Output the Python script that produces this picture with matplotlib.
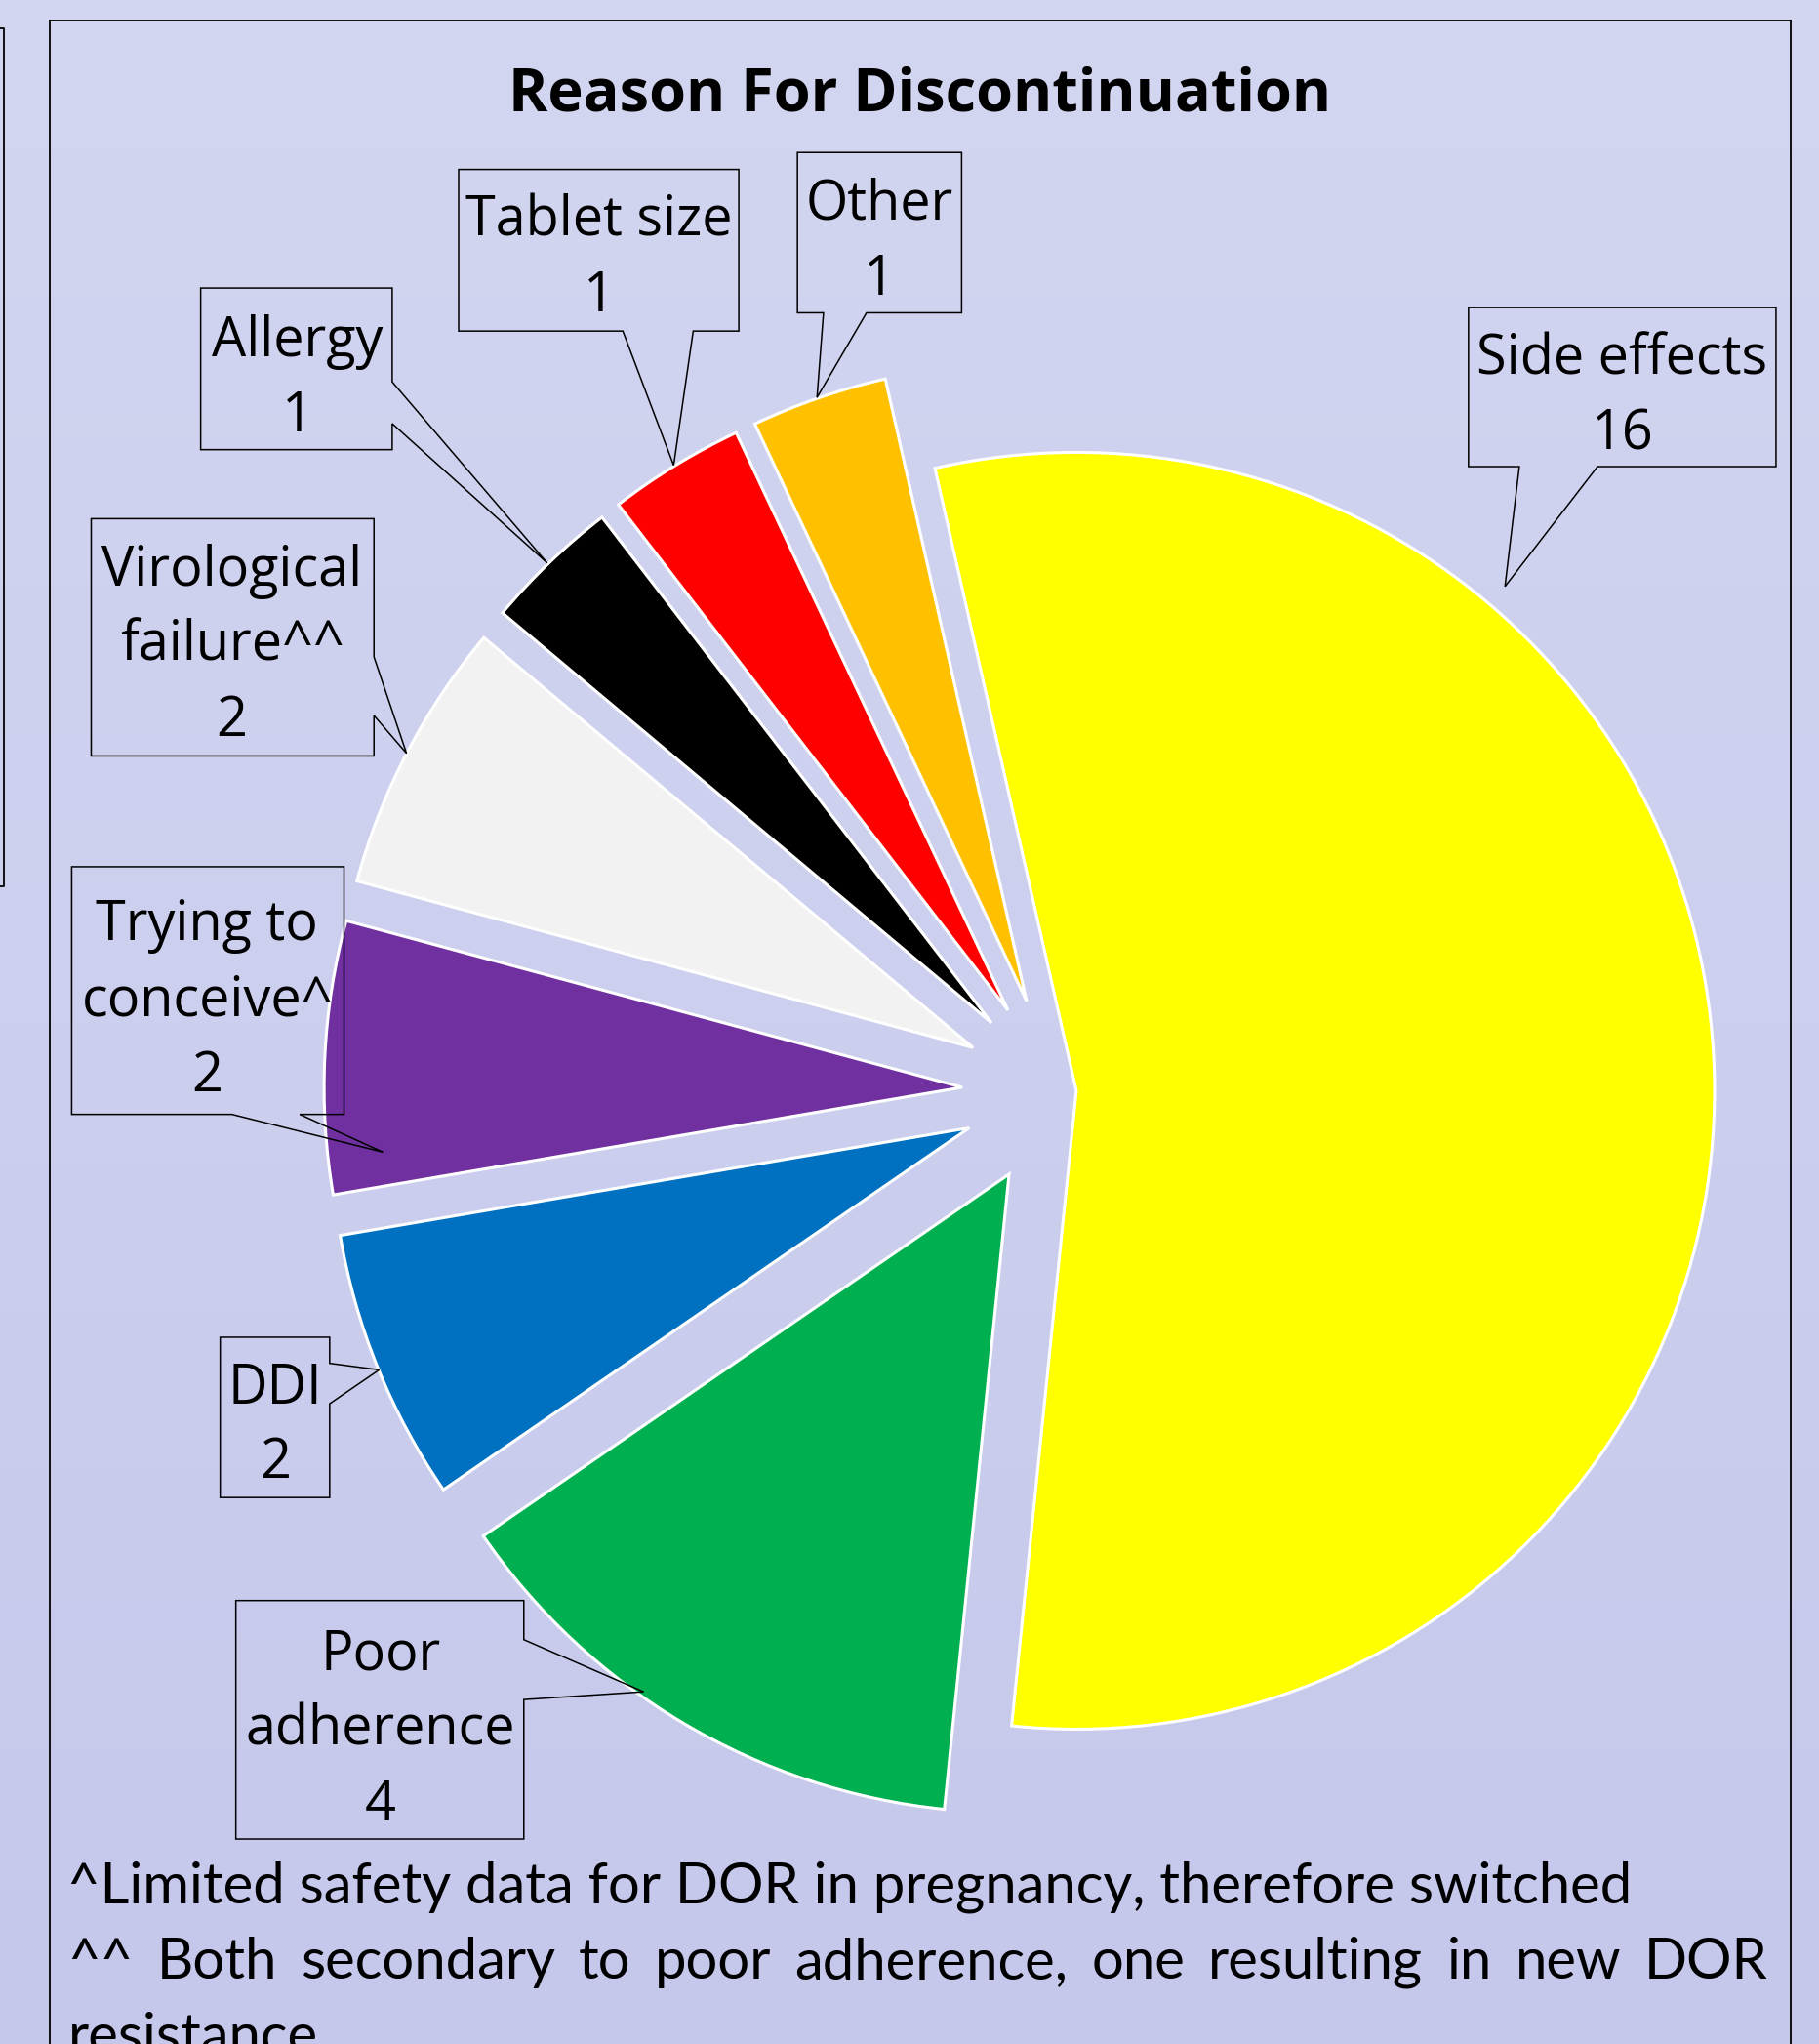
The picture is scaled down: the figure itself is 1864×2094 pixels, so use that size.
import matplotlib
matplotlib.use('Agg')
import matplotlib.pyplot as plt
import numpy as np
from matplotlib.patches import Polygon, Rectangle
from matplotlib.lines import Line2D

# ---------------- data ----------------
categories = ['Side effects', 'Poor adherence', 'DDI', 'Trying to conceive^',
              'Virological failure^^', 'Allergy', 'Tablet size', 'Other']
values = [16, 4, 2, 2, 2, 1, 1, 1]
wrapped_names = [['Side effects'], ['Poor', 'adherence'], ['DDI'],
                 ['Trying to', 'conceive^'], ['Virological', 'failure^^'],
                 ['Allergy'], ['Tablet size'], ['Other']]
colors = ['#FFFF00', '#00B050', '#0070C0', '#7030A0',
          '#F2F2F2', '#000000', '#FF0000', '#FFC000']
title = 'Reason For Discontinuation'
footnote1 = '^Limited safety data for DOR in pregnancy, therefore switched'
footnote2 = '^^ Both secondary to poor adherence, one resulting in new DOR'
footnote3 = 'resistance'

# ---------------- layout ----------------
W, H = 1864, 2094
S = W / 1396.0          # layout below measured on a 1396-wide view


def P(xd, yd):
    return xd * S, H - yd * S


explode_px = [19, 98, 98, 98, 98, 98, 98, 98]
pie_center = (1084, H - 1118.6)
pie_radius = 654
start_angle = 102.8

# callouts: box (x0,y0,x1,y1), pointer side, base a,b, tip, baselines, centre x
callouts = [
    dict(box=(1127, 236, 1363, 358), side='bottom', ab=(1166, 1226), tip=(1155, 450), base=[287, 345], cx=1245),
    dict(box=(181, 1228, 402, 1411), side='right', ab=(1258, 1304), tip=(494, 1298), base=[1281, 1339, 1397], cx=292),
    dict(box=(169, 1026, 253, 1149), side='right', ab=(1046, 1077), tip=(291, 1051), base=[1077, 1134], cx=211),
    dict(box=(55, 665, 264, 855), side='bottom', ab=(178, 230), tip=(294, 884), base=[721, 779, 837], cx=159),
    dict(box=(70, 398, 287, 580), side='right', ab=(504, 549), tip=(312, 578), base=[449, 507, 565], cx=178),
    dict(box=(154, 221, 301, 345), side='right', ab=(293, 325), tip=(420, 432), base=[273, 331], cx=228),
    dict(box=(352, 130, 567, 254), side='bottom', ab=(478, 532), tip=(517, 357), base=[181, 239], cx=460),
    dict(box=(612, 117, 738, 240), side='bottom', ab=(632, 665), tip=(627, 305), base=[168, 226], cx=675),
]

fig = plt.figure(figsize=(W / 100, H / 100), dpi=100)
ax = fig.add_axes([0, 0, 1, 1])

# background gradient
top = np.array([211, 214, 240]) / 255.0
bot = np.array([197, 200, 235]) / 255.0
g = np.linspace(0, 1, 256)[:, None]
grad = (top[None, :] * (1 - g) + bot[None, :] * g)[:, None, :]
ax.imshow(grad, extent=(0, W, 0, H), aspect='auto', zorder=0, origin='upper')

# pie
wedges, _ = ax.pie(values, colors=colors, startangle=start_angle, counterclock=False,
                   explode=explode_px, center=pie_center, radius=pie_radius,
                   wedgeprops=dict(edgecolor='white', linewidth=2.2, joinstyle='miter'))
for w in wedges:
    w.set_zorder(2)

ax.set_xlim(0, W)
ax.set_ylim(0, H)
ax.set_aspect('auto')
ax.axis('off')

# frame and neighbouring box edge
ax.add_patch(Rectangle(P(38, 1600), (1374 - 38) * S, (1600 - 16) * S, fill=False,
                       edgecolor='black', linewidth=1.3, zorder=1))
ax.add_line(Line2D([0, 3 * S, 3 * S, 0], [H - 22 * S, H - 22 * S, H - 680 * S, H - 680 * S],
                   color='black', linewidth=1.3, zorder=1))

fig.canvas.draw()
r = fig.canvas.get_renderer()


def fit_size(txt, target_px, family, weight='normal'):
    t = ax.text(0, 0, txt, fontsize=20, family=family, weight=weight)
    bb = t.get_window_extent(renderer=r)
    t.remove()
    return 20.0 * target_px / bb.width


label_font = 'Open Sans'
label_size = fit_size('Side effects', 222 * S, label_font)

# callouts
for c, names, v in zip(callouts, wrapped_names, values):
    x0, y0, x1, y1 = c['box']
    a, b = c['ab']
    tx, ty = c['tip']
    if c['side'] == 'bottom':
        pts = [(x0, y0), (x1, y0), (x1, y1), (b, y1), (tx, ty), (a, y1), (x0, y1)]
    else:
        pts = [(x0, y0), (x1, y0), (x1, a), (tx, ty), (x1, b), (x1, y1), (x0, y1)]
    ax.add_patch(Polygon([P(*p) for p in pts], closed=True, fill=False,
                         edgecolor='black', linewidth=1.1, joinstyle='miter', zorder=3))
    lines = names + [str(v)]
    for ln, bl in zip(lines, c['base']):
        x, y = P(c['cx'], bl)
        ax.text(x, y, ln, fontsize=label_size, family=label_font, ha='center',
                va='baseline', color='black', zorder=4)

# title
tsize = fit_size(title, 632 * S, 'Open Sans', 'bold')
x, y = P(706, 85)
ax.text(x, y, title, fontsize=tsize, family='Open Sans', weight='bold',
        ha='center', va='baseline', color='black', zorder=4)

# footnotes
fn_font = 'Lato'
fsize = fit_size(footnote1, (1255 - 52) * S, fn_font)
x, y = P(52, 1460)
ax.text(x, y, footnote1, fontsize=fsize, family=fn_font, ha='left', va='baseline', zorder=4)

# justified second line
words = footnote2.split(' ')
widths = []
for wd in words:
    t = ax.text(0, 0, wd, fontsize=fsize, family=fn_font)
    widths.append(t.get_window_extent(renderer=r).width)
    t.remove()
left_px, right_px = 52 * S, 1357 * S
gap = (right_px - left_px - sum(widths)) / (len(words) - 1)
xp = left_px
yb = H - 1518 * S
for wd, wdt in zip(words, widths):
    ax.text(xp, yb, wd, fontsize=fsize, family=fn_font, ha='left', va='baseline', zorder=4)
    xp += wdt + gap

x, y = P(52, 1576)
ax.text(x, y, footnote3, fontsize=fsize, family=fn_font, ha='left', va='baseline', zorder=4)

fig.savefig('out.png', dpi=100)
